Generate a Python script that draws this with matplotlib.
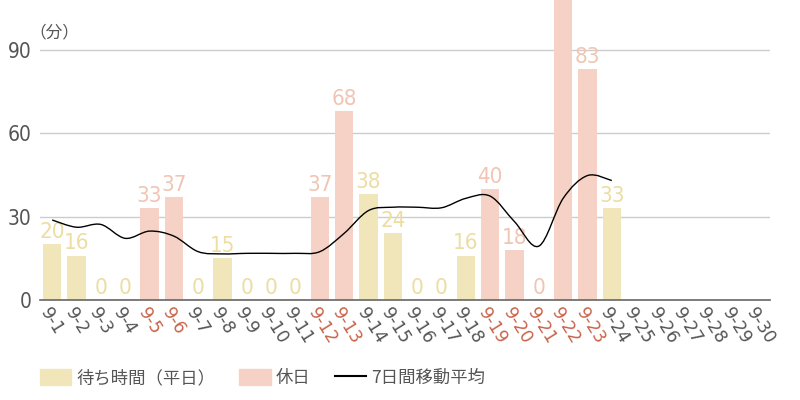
import matplotlib
matplotlib.use("Agg")
import matplotlib.pyplot as plt
from matplotlib import font_manager
from matplotlib.path import Path
from matplotlib.patches import PathPatch, Patch
from matplotlib.lines import Line2D
import numpy as np

# --- data ---
days = [f"9-{d}" for d in range(1, 31)]
holidays = ["9-5", "9-6", "9-12", "9-13", "9-19", "9-20", "9-21", "9-22", "9-23"]
# waiting time in minutes, None = no data yet
wait = [20, 16, 0, 0, 33, 37, 0, 15, 0, 0, 0, 37, 68, 38, 24, 0, 0, 16,
        40, 18, 0, 120, 83, 33] + [None] * 6
# 7-day moving average (9-1 .. 9-24)
moving_avg = [28.8, 26.2, 27.2, 22.2, 24.8, 23.0, 17.4, 16.6, 16.8, 16.8,
              16.8, 17.4, 24.0, 32.2, 33.4, 33.4, 33.2, 36.6, 37.4, 28.2,
              19.4, 36.6, 44.8, 43.0]

WEEKDAY = "#f1e6b9"
HOLIDAY = "#f5d2c5"
WEEKDAY_TXT = "#ecdda2"
HOLIDAY_TXT = "#f0c5b3"
RED = "#c8644a"
GRAY = "#555555"
YMAX = 108

plt.rcParams["font.family"] = ["Noto Sans CJK JP", "DejaVu Sans"]

# look for a narrow face for the numbers, like the original
num_font = {"family": "Roboto"}
for f in font_manager.fontManager.ttflist:
    if "Narrow" in f.name or "Condensed" in f.name:
        num_font = {"family": f.name}
        break
    if f.name in ("DejaVu Sans", "Roboto") and str(f.stretch) in ("condensed", "semi-condensed", "75", "87"):
        num_font = {"family": f.name, "stretch": f.stretch}
        break

fig = plt.figure(figsize=(8, 4), dpi=100)
ax = fig.add_axes([0.05, 0.25, 0.9125, 0.75])

x = np.arange(len(days))
for i, (d, v) in enumerate(zip(days, wait)):
    if v is None:
        continue
    hol = d in holidays
    ax.bar(i, max(v, 0.4), width=0.74, color=HOLIDAY if hol else WEEKDAY, zorder=2)
    if v + 8 < YMAX:
        ax.text(i, v + 0.8, str(v), ha="center", va="bottom", fontsize=16,
                color=HOLIDAY_TXT if hol else WEEKDAY_TXT, zorder=3, **num_font)

# smooth curve through the moving-average points (Catmull-Rom as bezier)
pts = np.column_stack([x[:len(moving_avg)], moving_avg]).astype(float)
ext = np.vstack([pts[0], pts, pts[-1]])
verts = [tuple(pts[0])]
codes = [Path.MOVETO]
for k in range(1, len(ext) - 2):
    p0, p1, p2, p3 = ext[k - 1], ext[k], ext[k + 1], ext[k + 2]
    c1 = p1 + (p2 - p0) / 6
    c2 = p2 - (p3 - p1) / 6
    verts += [tuple(c1), tuple(c2), tuple(p2)]
    codes += [Path.CURVE4] * 3
ax.add_patch(PathPatch(Path(verts, codes), fill=False, edgecolor="black",
                       lw=1.0, zorder=4))

ax.set_xlim(-0.5, len(days) - 0.5)
ax.set_ylim(0, YMAX)
ax.set_yticks([0, 30, 60, 90])
ax.grid(axis="y", color="#cccccc", lw=1, zorder=0)
ax.set_axisbelow(True)
for s in ["left", "right", "top"]:
    ax.spines[s].set_visible(False)
ax.spines["bottom"].set_color("#666666")
ax.spines["bottom"].set_linewidth(1.2)
ax.tick_params(axis="both", length=0)
ax.tick_params(axis="y", labelsize=15, labelcolor=GRAY, pad=6)

ax.set_xticks(x)
ax.set_xticklabels(days, rotation=-58, ha="left", va="top",
                   rotation_mode="anchor", fontsize=12.5)
for lab in ax.get_xticklabels():
    lab.set_color(RED if lab.get_text() in holidays else GRAY)
    lab.set_family(["DejaVu Sans"])
for lab in ax.get_yticklabels():
    lab.set_family([num_font["family"]])
    if "stretch" in num_font:
        lab.set_stretch(num_font["stretch"])
ax.tick_params(axis="x", pad=3)

fig.text(0.068, 0.918, "（分）", fontsize=12, color=GRAY, ha="center", va="center")

handles = [Patch(color=WEEKDAY), Patch(color=HOLIDAY),
           Line2D([], [], color="black", lw=1.5)]
fig.legend(handles, ["待ち時間（平日）", "休日", "7日間移動平均"], ncol=3,
           loc="center left", bbox_to_anchor=(0.03, 0.055), frameon=False,
           fontsize=12.5, handlelength=1.8, handleheight=1.0,
           columnspacing=1.4, handletextpad=0.3, labelcolor=GRAY)

fig.savefig("out.png", dpi=100)
